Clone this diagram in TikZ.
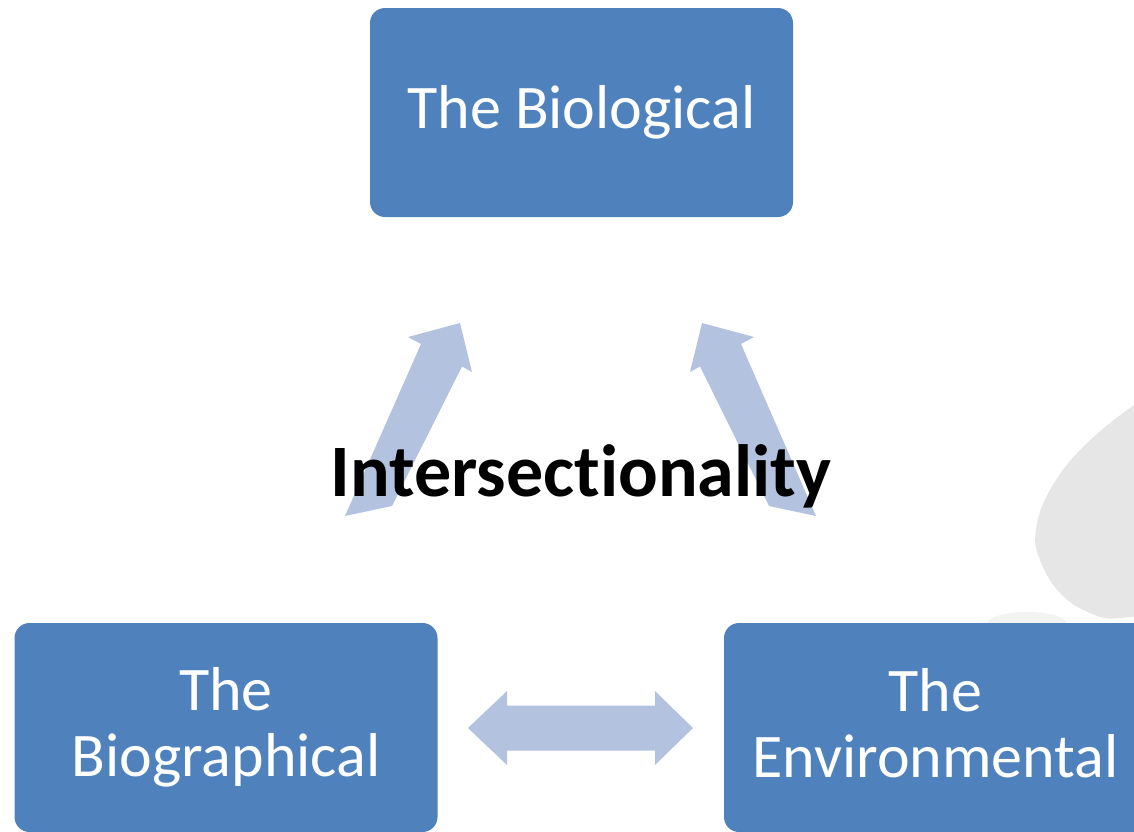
\documentclass[tikz,border=0pt]{standalone}
\usepackage{fontspec}
\setmainfont{Carlito}[Ligatures=NoCommon]
\definecolor{boxblue}{HTML}{4F81BD}
\definecolor{arrowblue}{HTML}{B3C3DF}
\definecolor{blobgray}{HTML}{E6E6E6}
\definecolor{faintgray}{HTML}{F3F3F3}
\begin{document}
\begin{tikzpicture}[x=1pt,y=-1pt,
  box/.style={draw=none, fill=boxblue, rounded corners=15pt, minimum width=423pt,
    minimum height=209pt, inner sep=0pt, text=white, align=center,
    font=\fontsize{62}{66}\selectfont},
  blockarrow/.style={fill=arrowblue, draw=none},
  titletext/.style={font=\bfseries\fontsize{74}{80}\selectfont, anchor=base, inner sep=0pt, text=black}]
\useasboundingbox (0,0) rectangle (1134,831);
\clip (0,0) rectangle (1134,831);
% background decorations
\fill[blobgray] plot[smooth cycle, tension=0.7] coordinates {(1134,405) (1083,447) (1050,490) (1036,530) (1040,560) (1060,593) (1090,613) (1120,618) (1170,605) (1230,560) (1250,470) (1220,390) (1170,385)};
\fill[faintgray] (1027,624) ellipse [x radius=40pt, y radius=12pt];
% boxes
\node[box] (bio) at (581.5,112.5) {The Biological};
\node[box] (biog) at (226,727.5) {The\\Biographical};
\node[box] (env) at (935.5,727.5) {The\\Environmental\vphantom{p}};
% block arrows
\fill[blockarrow] (345,516) -- (421,344) -- (408,337) -- (460,323) -- (472,372) -- (462,366.5) -- (392,506) -- cycle;
\fill[blockarrow] (816,516) -- (741,344) -- (754,337) -- (702,323) -- (690,372) -- (700,366.5) -- (769,506) -- cycle;
\fill[blockarrow] (468,728) -- (507,691) -- (507,705.5) -- (655,705.5) -- (655,691) -- (693,728) -- (655,765) -- (655,750.5) -- (507,750.5) -- (507,765) -- cycle;
% title
\node[titletext] (title) at (581,496) {Intersectionality};
\end{tikzpicture}
\end{document}
